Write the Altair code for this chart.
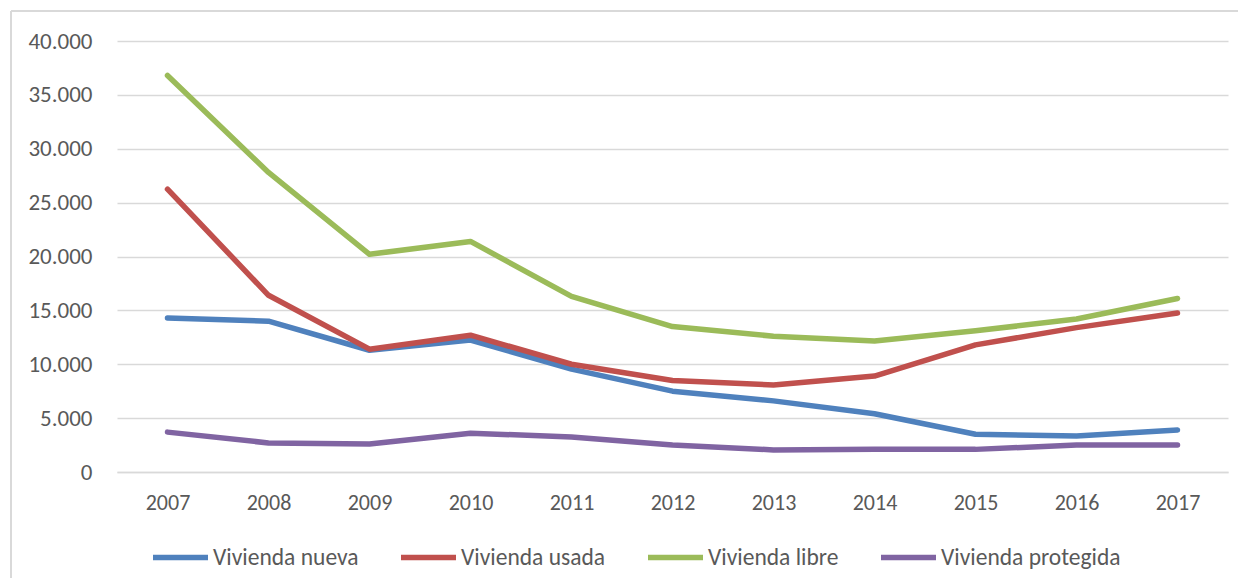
import altair as alt
import pandas as pd

years = ["2007", "2008", "2009", "2010", "2011", "2012", "2013", "2014", "2015", "2016", "2017"]
series_names = ["Vivienda nueva", "Vivienda usada", "Vivienda libre", "Vivienda protegida"]
nueva = [14300, 14000, 11300, 12250, 9550, 7500, 6600, 5400, 3500, 3350, 3900]
usada = [26250, 16400, 11400, 12700, 10000, 8500, 8070, 8900, 11800, 13400, 14750]
libre = [36800, 27800, 20200, 21400, 16300, 13500, 12600, 12150, 13100, 14200, 16100]
protegida = [3700, 2700, 2600, 3600, 3250, 2500, 2050, 2100, 2100, 2500, 2500]
colors = ["#4F81BD", "#C0504D", "#9BBB59", "#8064A2"]
y_ticks = [0, 5000, 10000, 15000, 20000, 25000, 30000, 35000, 40000]

rows = []
for name, vals in zip(series_names, [nueva, usada, libre, protegida]):
    for yr, v in zip(years, vals):
        rows.append({"year": yr, "value": v, "serie": name})
df = pd.DataFrame(rows)

FONT = "Carlito, Calibri, Liberation Sans"
BORDER = "#d9d9d9"

lines = alt.Chart(df).mark_line(strokeWidth=5.5, strokeCap="round", strokeJoin="round").encode(
    x=alt.X("year:O", title=None,
            scale=alt.Scale(type="point", padding=0.5),
            axis=alt.Axis(labelAngle=0, ticks=False, domain=True, domainColor="#d9d9d9",
                          domainWidth=1.5, labelPadding=20, labelFontSize=22,
                          labelColor="#595959", labelFont=FONT, grid=False)),
    y=alt.Y("value:Q", title=None,
            scale=alt.Scale(domain=[0, 40000], nice=False),
            axis=alt.Axis(values=y_ticks, ticks=False, domain=False, grid=True,
                          gridColor="#d9d9d9", gridWidth=1.5, labelPadding=25,
                          labelFontSize=23, labelColor="#595959", labelFont=FONT,
                          labelExpr="replace(format(datum.value, ','), ',', '.')")),
    color=alt.Color("serie:N", title=None,
                    scale=alt.Scale(domain=series_names, range=colors),
                    sort=series_names,
                    legend=alt.Legend(orient="none", direction="horizontal",
                                      legendX=33, legendY=486,
                                      symbolType="stroke", symbolSize=3025,
                                      symbolStrokeWidth=5.5, labelOffset=2,
                                      columnPadding=31, labelFontSize=23.5,
                                      labelLimit=400,
                                      labelColor="#595959", labelFont=FONT)),
)

# chart-area frame (decoration, like the spreadsheet chart border)
frame_top = alt.Chart(df).mark_rule(color=BORDER, strokeWidth=1.5).encode(
    x=alt.value(-106), x2=alt.value(1140), y=alt.value(-30))
frame_left = alt.Chart(df).mark_rule(color=BORDER, strokeWidth=1.5).encode(
    x=alt.value(-106), y=alt.value(-30), y2=alt.value(600))

chart = alt.layer(frame_top, frame_left, lines).properties(
    width=1111, height=431,
    autosize=alt.AutoSizeParams(type="none"),
    padding={"left": 109, "top": 33, "right": 10, "bottom": 106},
).configure_view(stroke=None)

chart.save("out.html", embed_options={"renderer": "svg", "actions": False})
